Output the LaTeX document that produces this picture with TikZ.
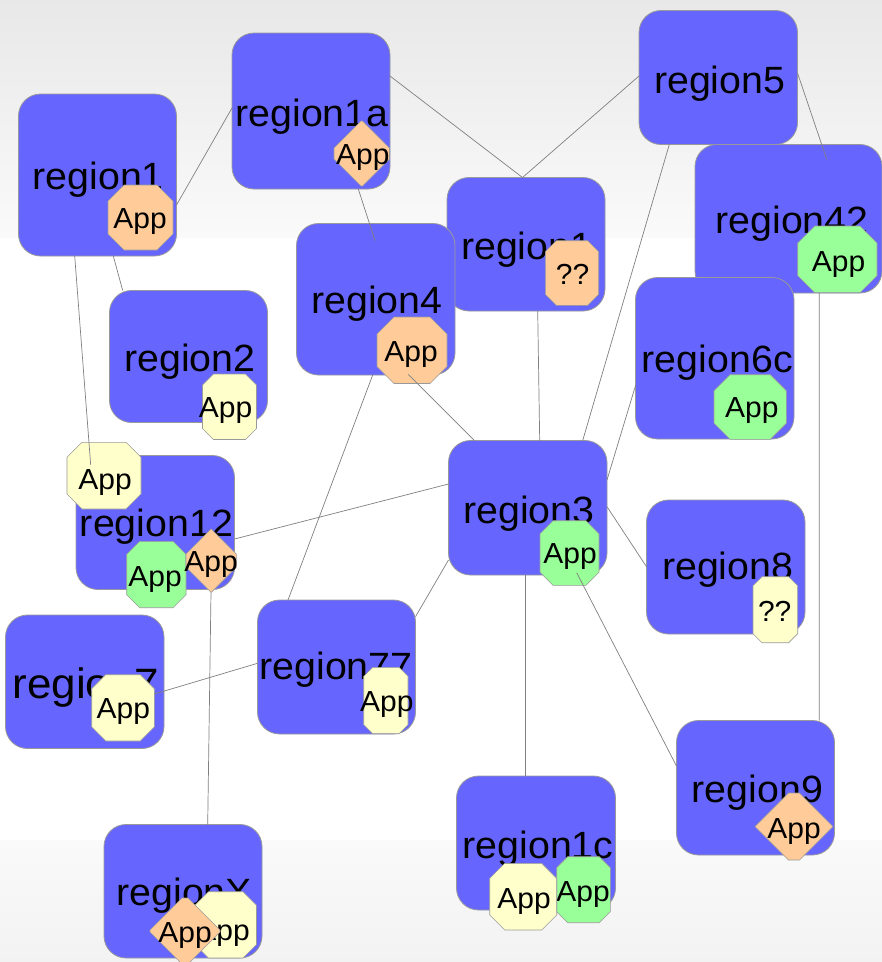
\documentclass[tikz,border=0pt]{standalone}
\usepackage{fontspec}
\setmainfont{Liberation Sans}[FakeStretch=1.035]
\definecolor{regionblue}{HTML}{6666FF}
\definecolor{apporange}{HTML}{FFCC99}
\definecolor{appyellow}{HTML}{FFFFCC}
\definecolor{appgreen}{HTML}{99FF99}
\definecolor{edgegray}{HTML}{999999}
\tikzset{
  regionbox/.style={draw=edgegray,line width=0.8pt,fill=regionblue,rectangle,rounded corners=22pt,inner sep=0pt,outer sep=0pt,anchor=north west},
  regionlabel/.style={inner sep=0pt,outer sep=0pt,anchor=base,text=black,xshift=1pt,yshift=-1.6pt,font=\fontsize{38}{40}\selectfont},
  appshape/.style={draw=edgegray,line width=0.6pt},
  appframe/.style={rectangle,inner sep=0pt,outer sep=0pt},
  applabel/.style={inner sep=0pt,outer sep=0pt,anchor=base,text=black,yshift=-1pt,font=\fontsize{29}{31}\selectfont},
  link/.style={draw=black!50,line width=0.7pt}
}
% name, x0, y0, x1, y1, label, label x, label baseline
\newcommand{\regionnode}[8]{%
  \pgfmathsetmacro{\rw}{#4-#2}\pgfmathsetmacro{\rh}{#5-#3}%
  \node[regionbox,minimum width=\rw pt,minimum height=\rh pt] (#1) at (#2,#3) {};
  \node[regionlabel] (#1-t) at (#7,#8) {#6};
}
% name, x0, y0, x1, y1, chamfer, colour, label, label x, label baseline
\newcommand{\appnode}[9]{%
  \pgfmathsetmacro{\aw}{#4-#2}\pgfmathsetmacro{\ah}{#5-#3}%
  \pgfmathsetmacro{\ax}{(#4+#2)/2}\pgfmathsetmacro{\ay}{(#5+#3)/2}%
  \node[appframe,minimum width=\aw pt,minimum height=\ah pt] (#1) at (\ax,\ay) {};
  \draw[appshape,fill=#7] ([xshift=#6 pt]#1.north west) -- ([xshift=-#6 pt]#1.north east)
    -- ([yshift=-#6 pt]#1.north east) -- ([yshift=#6 pt]#1.south east)
    -- ([xshift=-#6 pt]#1.south east) -- ([xshift=#6 pt]#1.south west)
    -- ([yshift=#6 pt]#1.south west) -- ([yshift=-#6 pt]#1.north west) -- cycle;
  \applabeltext{#1}{#8}{#9}%
}
\newcommand{\applabeltext}[3]{\def\appnm{#1}\def\apptx{#2}\def\appx{#3}\applabelfinish}
\def\applabelfinish#1{\node[applabel] (\appnm-t) at (\appx,#1) {\apptx};}
\begin{document}
\begin{tikzpicture}[x=1pt,y=-1pt]
\useasboundingbox (0,0) rectangle (882,962);
\fill[white] (0,0) rectangle (882,962);
\shade[top color=black!9,bottom color=black!2] (0,0) rectangle (882,237);
\shade[top color=black!2,bottom color=black!5] (0,840) rectangle (882,962);

\regionnode{r1}{18.5}{94}{176.5}{256}{region1}{97.3}{188}
\appnode{a1}{108}{185}{173}{250}{16}{apporange}{App}{140}{227.3}

\regionnode{r1a}{232}{33}{390}{189}{region1a}{311}{125}
\appnode{a1a}{334}{121}{389.5}{186}{27}{apporange}{App}{362.8}{163.3}

\regionnode{r2}{109.5}{290.5}{267.5}{422.5}{region2}{189}{370}
\appnode{a2}{202.5}{374}{256.5}{439.5}{11}{appyellow}{App}{225.5}{416}

\regionnode{rb}{447}{177.5}{605}{311}{region1}{525.7}{258}
\appnode{ab}{545.3}{240.7}{598.7}{305.3}{11}{apporange}{??}{572.5}{283.3}

\regionnode{r4}{296.5}{223.5}{455}{375}{region4}{376}{311.7}
\appnode{a4}{377}{317}{447}{383.5}{17}{apporange}{App}{411}{360}

\regionnode{r5}{639}{10.5}{797.5}{144.5}{region5}{718.7}{92}

\regionnode{r42}{695}{144.5}{882}{293}{region42}{791}{231.7}
\appnode{a42}{797.7}{226}{877}{292.7}{17}{appgreen}{App}{838.5}{270.7}

\regionnode{r6c}{635.5}{277.5}{794}{439}{region6c}{716.3}{371}
\appnode{a6c}{714}{374.7}{786.3}{439.3}{16}{appgreen}{App}{751.8}{416.7}

\regionnode{r3}{448.5}{440.5}{607}{575}{region3}{528}{521.7}
\appnode{a3}{540}{520.7}{599}{585.3}{13}{appgreen}{App}{570}{562.3}

\regionnode{r8}{646.5}{500}{805}{634}{region8}{726.7}{578.3}
\appnode{a8}{753}{576.7}{797.7}{642.7}{9}{appyellow}{??}{774.7}{620}

\regionnode{r9}{676.5}{720.5}{834.5}{855}{region9}{756.3}{801}
\appnode{a9}{755}{793}{833}{860}{33.5}{apporange}{App}{794}{837.3}

\regionnode{r1c}{456.5}{776}{615.5}{910}{region1c}{537}{856.7}
\appnode{a1cg}{556.7}{856.7}{610.3}{922.7}{11}{appgreen}{App}{583}{900}
\appnode{a1cy}{489.7}{863.3}{556.7}{930}{15}{appyellow}{App}{524}{907.3}

\regionnode{r12}{76}{455.5}{234.5}{589.5}{region12}{155.5}{535}
\appnode{a12y}{67}{442.3}{141}{509}{15}{appyellow}{App}{105}{488}
\appnode{a12g}{126.7}{541.3}{186}{607.7}{13}{appgreen}{App}{155}{585}
\appnode{a12d}{186}{529}{236.3}{592.3}{25}{apporange}{App}{211}{570.7}

\node[regionbox,minimum width=158.5pt,minimum height=133.5pt] (r7) at (5.5,615) {};
\node[regionlabel,font=\fontsize{42.5}{45}\selectfont] (r7-t) at (85,696.7) {region7};
\appnode{a7}{91.7}{674.7}{154.3}{741}{14}{appyellow}{App}{123.3}{717.7}

\regionnode{r77}{257.5}{600}{415.5}{734}{region77}{335}{678.3}
\appnode{a77}{363.7}{667.3}{408}{733.7}{9}{appyellow}{App}{386.8}{710.7}

\regionnode{rX}{104}{824.5}{262}{958}{regionX}{183.3}{904}
\appnode{aXy}{195}{891.7}{256.5}{958}{13.5}{appyellow}{App}{223}{939.3}
\appnode{aXd}{150}{898}{220}{964}{32}{apporange}{App}{185}{941.7}

\draw[link] ([shift={(158,111)}]r1.north west) -- ([shift={(0,75)}]r1a.north west);
\draw[link] ([shift={(158,43)}]r1a.north west) -- ([shift={(75.5,0)}]rb.north west);
\draw[link] ([shift={(0,65.5)}]r5.north west) -- ([shift={(75.5,0)}]rb.north west);
\draw[link] ([shift={(158.5,62.5)}]r5.north west) -- ([shift={(131.7,14.8)}]r42.north west);
\draw[link] ([shift={(30.3,134)}]r5.north west) -- ([shift={(134.2,0)}]r3.north west);
\draw[link] ([shift={(90.7,133.5)}]rb.north west) -- ([shift={(91.2,0)}]r3.north west);
\draw[link] ([shift={(126.3,156)}]r1a.north west) -- ([shift={(78.5,17.2)}]r4.north west);
\draw[link] ([shift={(94.8,162)}]r1.north west) -- ([shift={(13.2,0)}]r2.north west);
\draw[link] ([shift={(56.2,162)}]r1.north west) -- ([shift={(-13.3,-10.65)}]a12y.center);
\draw[link] ([shift={(76.2,151.5)}]r4.north west) -- ([shift={(30.5,0)}]r77.north west);
\draw[link] ([shift={(-3.7,24.05)}]a4.center) -- ([shift={(25.8,0)}]r3.north west);
\draw[link] ([shift={(158.5,83.5)}]r12.north west) -- ([shift={(0,43.5)}]r3.north west);
\draw[link] ([shift={(0.2,107.5)}]r6c.north west) -- ([shift={(158.5,39.5)}]r3.north west);
\draw[link] ([shift={(-18.05,33.65)}]a42.center) -- ([shift={(142.8,0)}]r9.north west);
\draw[link] ([shift={(158.5,66.2)}]r3.north west) -- ([shift={(0,66.7)}]r8.north west);
\draw[link] ([shift={(76.5,134.5)}]r3.north west) -- ([shift={(68.5,0)}]r1c.north west);
\draw[link] ([shift={(7.2,19.7)}]a3.center) -- ([shift={(0,45.5)}]r9.north west);
\draw[link] ([shift={(0,119.5)}]r3.north west) -- ([shift={(158,16.7)}]r77.north west);
\draw[link] ([shift={(-0.15,31.65)}]a12d.center) -- ([shift={(103.7,0)}]rX.north west);
\draw[link] ([shift={(31.3,-13.85)}]a7.center) -- ([shift={(0,63.3)}]r77.north west);
\end{tikzpicture}
\end{document}
